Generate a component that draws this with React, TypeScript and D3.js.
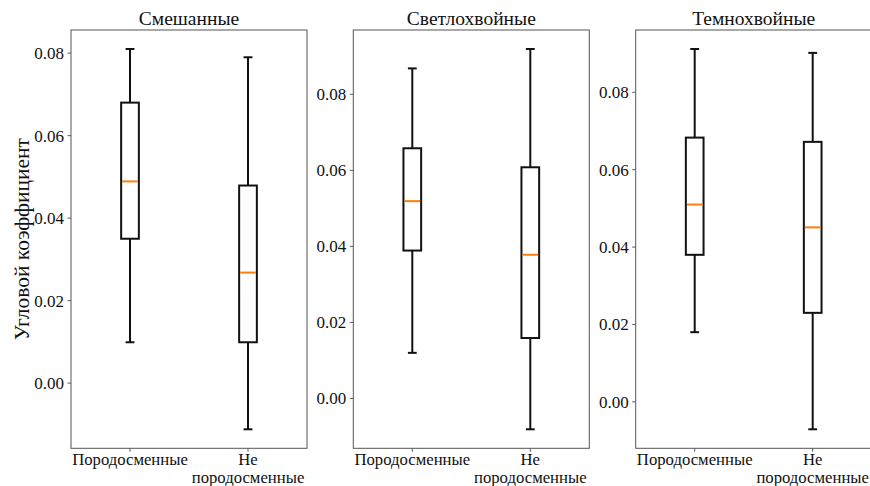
import React from "react";
import * as d3 from "d3";

const titles = ["Смешанные", "Светлохвойные", "Темнохвойные"];
const categories = ["Породосменные", "Не\nпородосменные"];
// each: [whiskerLow, q1, median, q3, whiskerHigh]
const mixedStats = [
  [0.0099, 0.035, 0.0489, 0.068, 0.081],
  [-0.0112, 0.0099, 0.0268, 0.0479, 0.079],
];
const lightConiferStats = [
  [0.012, 0.0389, 0.0519, 0.0658, 0.0868],
  [-0.0081, 0.0159, 0.0378, 0.0608, 0.0919],
];
const darkConiferStats = [
  [0.018, 0.038, 0.051, 0.0683, 0.0912],
  [-0.0071, 0.023, 0.0451, 0.0672, 0.0902],
];
const yTicks = [0.0, 0.02, 0.04, 0.06, 0.08];
const yLabel = "Угловой коэффициент";

const W = 870;
const H = 486;
const panelLefts = [71, 353.3, 635.7];
const panelW = 236;
const top = 30;
const bottom = 448.3;
const font = "'Liberation Serif', 'Times New Roman', serif";

function Panel({ left, title, stats }: { left: number; title: string; stats: number[][] }) {
  const lo = d3.min(stats, (s) => s[0]) as number;
  const hi = d3.max(stats, (s) => s[4]) as number;
  const m = (hi - lo) * 0.05;
  const y = d3.scaleLinear().domain([lo - m, hi + m]).range([bottom, top]);
  const x = d3.scaleLinear().domain([0.5, 2.5]).range([left, left + panelW]);
  const bw = 0.15;
  const cw = 0.075;
  const ink = "#111";
  return (
    <g>
      <text x={left + panelW / 2} y={25} textAnchor="middle" fontFamily={font} fontSize={19.5} fill="#111">
        {title}
      </text>
      {yTicks.map((t) => (
        <g key={t}>
          <line x1={left - 3.5} x2={left} y1={y(t)} y2={y(t)} stroke="#333" strokeWidth={0.8} />
          <text x={left - 7} y={y(t)} dy="0.35em" textAnchor="end" fontFamily={font} fontSize={17} fill="#111">
            {d3.format(".2f")(t)}
          </text>
        </g>
      ))}
      {categories.map((c, i) => {
        const lines = c.split("\n");
        return (
          <g key={c}>
            <line x1={x(i + 1)} x2={x(i + 1)} y1={bottom} y2={bottom + 3.5} stroke="#333" strokeWidth={0.8} />
            {lines.map((ln, j) => (
              <text key={j} x={x(i + 1)} y={465 + j * 18} textAnchor="middle" fontFamily={font} fontSize={16.7} fill="#111">
                {ln}
              </text>
            ))}
          </g>
        );
      })}
      {stats.map((s, i) => {
        const p = i + 1;
        return (
          <g key={i} fill="none" stroke={ink} strokeWidth={2}>
            <line x1={x(p)} x2={x(p)} y1={y(s[1])} y2={y(s[0])} />
            <line x1={x(p)} x2={x(p)} y1={y(s[3])} y2={y(s[4])} />
            <line x1={x(p - cw / 2)} x2={x(p + cw / 2)} y1={y(s[0])} y2={y(s[0])} />
            <line x1={x(p - cw / 2)} x2={x(p + cw / 2)} y1={y(s[4])} y2={y(s[4])} />
            <rect x={x(p - bw / 2)} y={y(s[3])} width={x(p + bw / 2) - x(p - bw / 2)} height={y(s[1]) - y(s[3])} />
            <line x1={x(p - bw / 2) + 1} x2={x(p + bw / 2) - 1} y1={y(s[2])} y2={y(s[2])} stroke="#ff7f0e" />
          </g>
        );
      })}
      <rect x={left} y={top} width={panelW} height={bottom - top} fill="none" stroke="#555" strokeWidth={1} />
    </g>
  );
}

export default function App() {
  const all = [mixedStats, lightConiferStats, darkConiferStats];
  return (
    <svg width={W} height={H} style={{ position: "absolute", left: 0, top: 0, background: "#fff" }}>
      <rect width={W} height={H} fill="#fff" />
      <text
        transform={`translate(29,${(top + bottom) / 2}) rotate(-90)`}
        textAnchor="middle"
        fontFamily={font}
        fontSize={21.5}
        fill="#111"
      >
        {yLabel}
      </text>
      {all.map((s, i) => (
        <Panel key={i} left={panelLefts[i]} title={titles[i]} stats={s} />
      ))}
    </svg>
  );
}
